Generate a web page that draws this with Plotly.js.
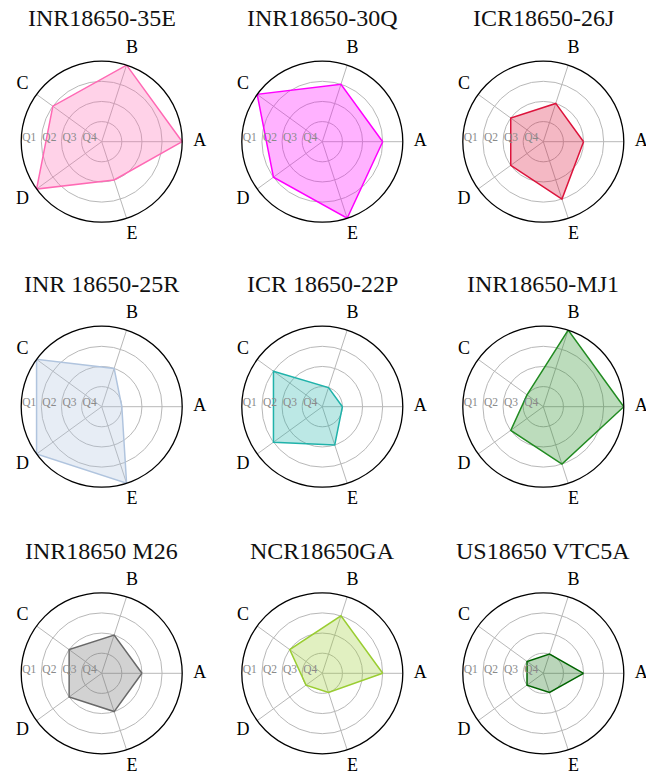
<!DOCTYPE html>
<html>
<head>
<meta charset="utf-8">
<script src="https://cdn.plot.ly/plotly-3.0.1.min.js"></script>
<style>
  html, body { margin: 0; padding: 0; background: #ffffff; }
  #chart { width: 646px; height: 776px; }
</style>
</head>
<body>
<div id="chart"></div>
<script>
// ---------- data ----------
const categories = ['A', 'B', 'C', 'D', 'E'];
const radialTickText = ['Q4', 'Q3', 'Q2', 'Q1'];
const cellNames = ['INR18650-35E', 'INR18650-30Q', 'ICR18650-26J',
                   'INR 18650-25R', 'ICR 18650-22P', 'INR18650-MJ1',
                   'INR18650 M26', 'NCR18650GA', 'US18650 VTC5A'];
const cell35E   = [4, 4, 3, 4, 2];
const cell30Q   = [3, 3, 4, 3, 4];
const cell26J   = [2, 2, 2, 2, 3];
const cell25R   = [1, 2, 4, 4, 4];
const cell22P   = [1, 1, 3, 3, 2];
const cellMJ1   = [4, 4, 1, 2, 3];
const cellM26   = [2, 2, 2, 2, 2];
const cellGA    = [3, 3, 2, 1, 1];
const cellVTC5A = [2, 1, 1, 1, 1];
const seriesValues = [cell35E, cell30Q, cell26J, cell25R, cell22P, cellMJ1, cellM26, cellGA, cellVTC5A];

// ---------- styles ----------
const lineColors = ['#ff69b4', '#ff00ff', '#dc143c', '#b0c4de', '#20b2aa', '#228b22', '#696969', '#9acd32', '#006400'];
const fillColors = ['rgba(255,105,180,0.3)', 'rgba(255,0,255,0.3)', 'rgba(220,20,60,0.3)',
                    'rgba(176,196,222,0.3)', 'rgba(32,178,170,0.3)', 'rgba(34,139,34,0.3)',
                    'rgba(105,105,105,0.3)', 'rgba(154,205,50,0.3)', 'rgba(0,100,0,0.27)'];

// ---------- layout geometry ----------
const W = 646, H = 776;
const colCenters = [101.7, 322.3, 543.3];
const rowCenters = [141.7, 406.7, 673.3];
const titleRows = [18, 284, 551];
const R = 80.5;               // outer ring radius (r = 4)
const R2 = R * 5 / 4;         // overlay subplot radius (r = 5), same scale
const labelRadius = 4.87;     // category labels just outside the outer ring
const serif = 'Liberation Serif, Times New Roman, serif';
const gridGray = '#b8b8b8';

const traces = [];
const layout = {
  width: W, height: H,
  margin: {l: 0, r: 0, t: 0, b: 0},
  paper_bgcolor: '#ffffff',
  showlegend: false,
  annotations: []
};

function domainFor(cx, cy, rad) {
  return {
    x: [(cx - rad) / W, (cx + rad) / W],
    y: [1 - (cy + rad) / H, 1 - (cy - rad) / H]
  };
}

seriesValues.forEach((vals, i) => {
  const row = Math.floor(i / 3), col = i % 3;
  const cx = colCenters[col], cy = rowCenters[row];
  const main = 'polar' + (2 * i + 1 === 1 ? '' : (2 * i + 1));
  const over = 'polar' + (2 * i + 2);

  layout[main] = {
    domain: domainFor(cx, cy, R),
    bgcolor: 'rgba(0,0,0,0)',
    angularaxis: {
      type: 'category',
      categoryarray: categories,
      rotation: 0,
      direction: 'counterclockwise',
      showline: true, linecolor: '#000000', linewidth: 1.3,
      showgrid: true, gridcolor: gridGray, gridwidth: 1,
      showticklabels: false, ticks: ''
    },
    radialaxis: {
      range: [0, 4],
      tickmode: 'array', tickvals: [1, 2, 3],
      showticklabels: false, ticks: '',
      showline: false,
      showgrid: true, gridcolor: gridGray, gridwidth: 1
    }
  };
  layout[over] = {
    domain: domainFor(cx, cy, R2),
    bgcolor: 'rgba(0,0,0,0)',
    angularaxis: {
      type: 'category',
      categoryarray: categories,
      rotation: 0,
      direction: 'counterclockwise',
      showline: false, showgrid: false, showticklabels: false, ticks: ''
    },
    radialaxis: {
      range: [0, 5],
      angle: 180,
      tickangle: 180,
      tickmode: 'array', tickvals: [0.6, 1.6, 2.6, 3.6], ticktext: radialTickText,
      showticklabels: true, ticks: '',
      showline: false, showgrid: false,
      tickfont: {family: serif, size: 11.5, color: '#8a8a8a'}
    }
  };

  traces.push({
    type: 'scatterpolar',
    subplot: main,
    r: vals.concat([vals[0]]),
    theta: categories.concat([categories[0]]),
    mode: 'lines',
    fill: 'toself',
    fillcolor: fillColors[i],
    line: {color: lineColors[i], width: 1.5},
    hoverinfo: 'skip'
  });
  // category labels A..E just outside the outer ring
  traces.push({
    type: 'scatterpolar',
    subplot: over,
    r: categories.map(() => labelRadius),
    theta: categories,
    mode: 'text',
    text: categories,
    textposition: 'middle center',
    textfont: {family: serif, size: 18, color: '#000000'},
    cliponaxis: false,
    hoverinfo: 'skip'
  });

  layout.annotations.push({
    text: cellNames[i],
    xref: 'paper', yref: 'paper',
    x: cx / W, y: 1 - titleRows[row] / H,
    xanchor: 'center', yanchor: 'middle',
    showarrow: false,
    font: {family: serif, size: 24, color: '#111111'}
  });
});

Plotly.newPlot('chart', traces, layout, {staticPlot: true, displayModeBar: false});
</script>
</body>
</html>
